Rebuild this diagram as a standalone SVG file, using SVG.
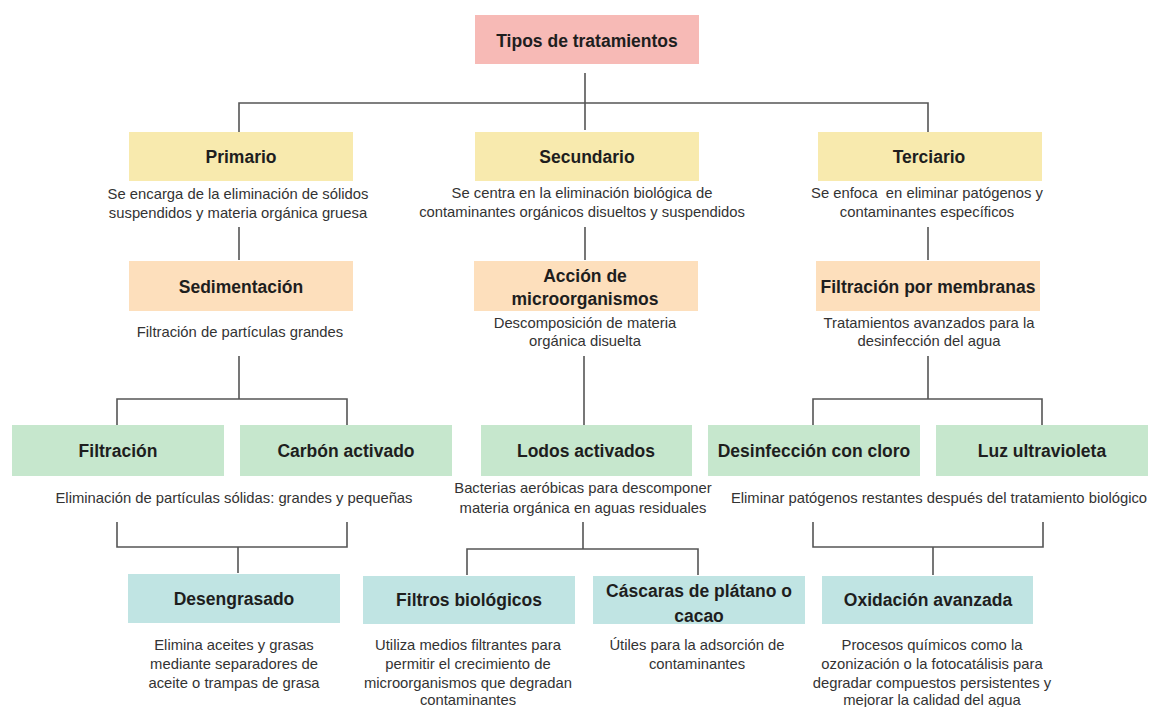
<svg xmlns="http://www.w3.org/2000/svg" width="1152" height="707" viewBox="0 0 1152 707">
<style>
.t{font-family:"Liberation Sans",Arial,sans-serif;font-weight:bold;font-size:17.5px;fill:#1e1e1e;text-anchor:middle;dominant-baseline:central}
.d{font-family:"Liberation Sans",Arial,sans-serif;font-size:14.8px;fill:#333;text-anchor:middle;dominant-baseline:central}
.pink{fill:#f7bab6}.yel{fill:#f8eaae}.peach{fill:#fddfbc}.grn{fill:#c6e7cd}.teal{fill:#c0e4e3}
.c path{fill:none;stroke:#555;stroke-width:1.6}
</style>
<rect width="1152" height="707" fill="#ffffff"/>
<g class="c" id="connectors">
<path d="M585 73V130M239 132V103H928V132"/>
<path d="M239 227V260M585 227V260M928 227V260"/>
<path d="M239 356V399M117 425V399H347V425"/>
<path d="M584 356V425"/>
<path d="M928 356V399M813 425V399H1042V425"/>
<path d="M117 522V547H347V522M238 547V573"/>
<path d="M583 522V549M467 575V549H698V575"/>
<path d="M813 522V547H1043V522M933 547V575"/>
</g>
<g id="n-tipos"><rect class="pink" x="475" y="15" width="224" height="49"/><text class="t" x="587" y="41">Tipos de tratamientos</text></g>
<g id="n-primario"><rect class="yel" x="129" y="132" width="224" height="49"/><text class="t" x="241" y="157">Primario</text>
<text class="d" x="238" y="194">Se encarga de la eliminación de sólidos</text><text class="d" x="238" y="213">suspendidos y materia orgánica gruesa</text></g>
<g id="n-secundario"><rect class="yel" x="475" y="132" width="224" height="49"/><text class="t" x="587" y="157">Secundario</text>
<text class="d" x="582" y="193">Se centra en la eliminación biológica de</text><text class="d" x="582" y="212">contaminantes orgánicos disueltos y suspendidos</text></g>
<g id="n-terciario"><rect class="yel" x="818" y="132" width="224" height="49"/><text class="t" x="929" y="157">Terciario</text>
<text class="d" x="927" y="193" xml:space="preserve">Se enfoca  en eliminar patógenos y</text><text class="d" x="927" y="212">contaminantes específicos</text></g>
<g id="n-sedimentacion"><rect class="peach" x="129" y="261" width="224" height="50"/><text class="t" x="241" y="287">Sedimentación</text>
<text class="d" x="240" y="332">Filtración de partículas grandes</text></g>
<g id="n-accion"><rect class="peach" x="474" y="261" width="224" height="50"/><text class="t" x="585" y="276">Acción de</text><text class="t" x="585" y="299">microorganismos</text>
<text class="d" x="585" y="323">Descomposición de materia</text><text class="d" x="585" y="341">orgánica disuelta</text></g>
<g id="n-membranas"><rect class="peach" x="816" y="261" width="224" height="50"/><text class="t" x="928" y="287">Filtración por membranas</text>
<text class="d" x="929" y="323">Tratamientos avanzados para la</text><text class="d" x="929" y="341">desinfección del agua</text></g>
<g id="n-filtracion"><rect class="grn" x="12" y="425" width="212" height="51"/><text class="t" x="118" y="451">Filtración</text></g>
<g id="n-carbon"><rect class="grn" x="240" y="425" width="212" height="51"/><text class="t" x="346" y="451">Carbón activado</text></g>
<text class="d" x="234" y="498">Eliminación de partículas sólidas: grandes y pequeñas</text>
<g id="n-lodos"><rect class="grn" x="481" y="425" width="211" height="51"/><text class="t" x="586" y="451">Lodos activados</text>
<text class="d" x="583" y="488">Bacterias aeróbicas para descomponer</text><text class="d" x="583" y="508">materia orgánica en aguas residuales</text></g>
<g id="n-cloro"><rect class="grn" x="708" y="425" width="212" height="51"/><text class="t" x="814" y="451">Desinfección con cloro</text></g>
<g id="n-uv"><rect class="grn" x="936" y="425" width="212" height="51"/><text class="t" x="1042" y="451">Luz ultravioleta</text></g>
<text class="d" x="939" y="498">Eliminar patógenos restantes después del tratamiento biológico</text>
<g id="n-desengrasado"><rect class="teal" x="128" y="574" width="212" height="49"/><text class="t" x="234" y="599">Desengrasado</text>
<text class="d" x="234" y="645">Elimina aceites y grasas</text><text class="d" x="234" y="664">mediante separadores de</text><text class="d" x="234" y="683">aceite o trampas de grasa</text></g>
<g id="n-filtros"><rect class="teal" x="363" y="576" width="212" height="48"/><text class="t" x="469" y="600">Filtros biológicos</text>
<text class="d" x="468" y="645">Utiliza medios filtrantes para</text><text class="d" x="468" y="664">permitir el crecimiento de</text><text class="d" x="468" y="683">microorganismos que degradan</text><text class="d" x="468" y="700">contaminantes</text></g>
<g id="n-cascaras"><rect class="teal" x="593" y="576" width="212" height="48"/><text class="t" x="699" y="591">Cáscaras de plátano o</text><text class="t" x="699" y="616">cacao</text>
<text class="d" x="697" y="645">Útiles para la adsorción de</text><text class="d" x="697" y="664">contaminantes</text></g>
<g id="n-oxidacion"><rect class="teal" x="822" y="576" width="211" height="48"/><text class="t" x="928" y="600">Oxidación avanzada</text>
<text class="d" x="932" y="645">Procesos químicos como la</text><text class="d" x="932" y="664">ozonización o la fotocatálisis para</text><text class="d" x="932" y="683">degradar compuestos persistentes y</text><text class="d" x="932" y="700">mejorar la calidad del agua</text></g>
</svg>
